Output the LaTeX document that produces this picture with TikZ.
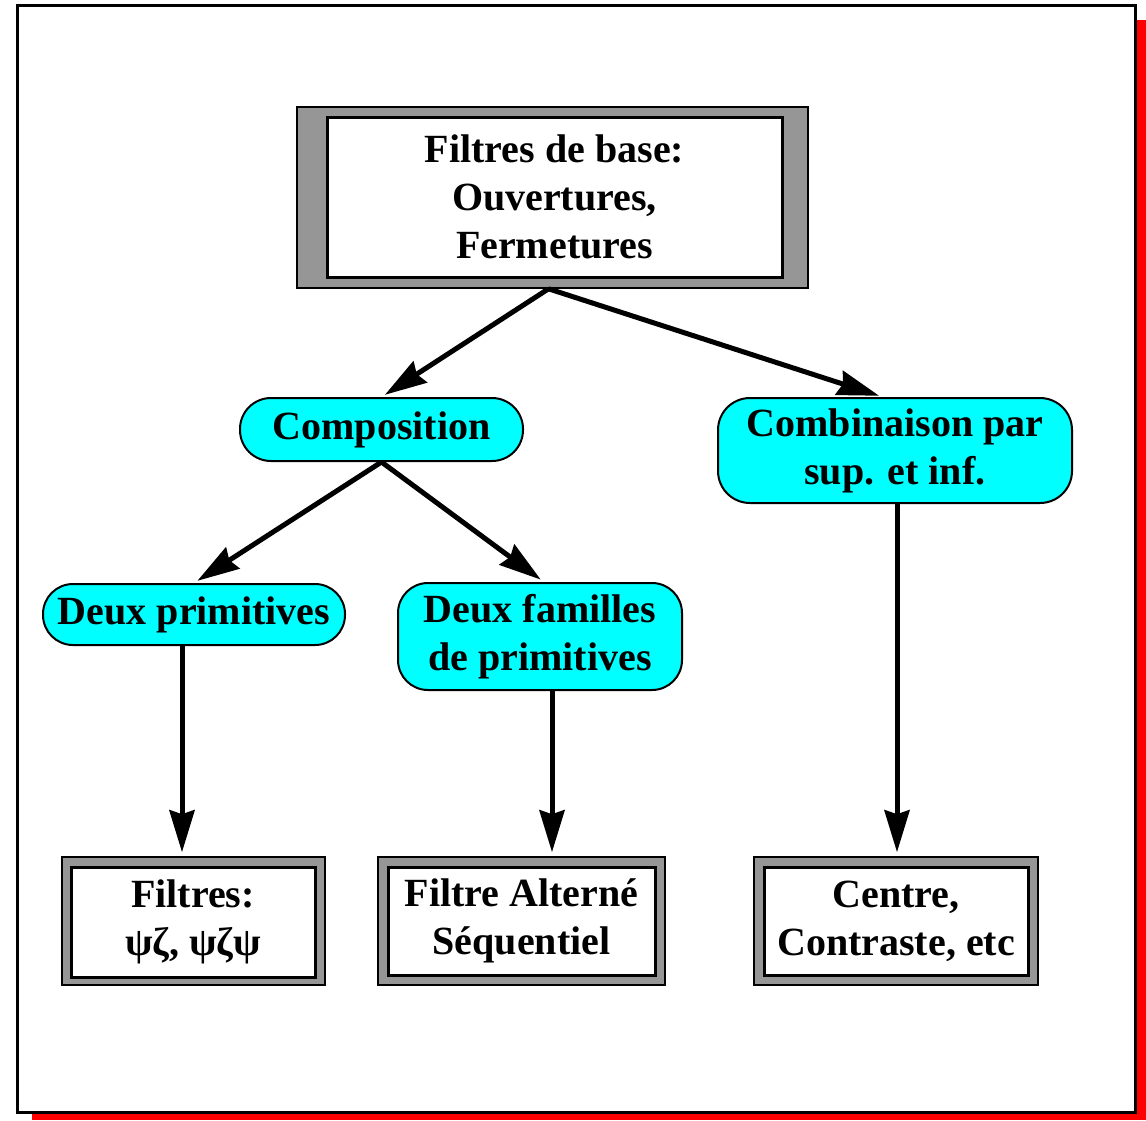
\documentclass[tikz,border=0pt]{standalone}
\usepackage{fontspec}
\setmainfont{Liberation Serif}
\usetikzlibrary{arrows.meta}
\definecolor{boxcyan}{RGB}{0,255,255}
\definecolor{shadegray}{RGB}{150,150,150}
\definecolor{shadowred}{RGB}{255,0,0}
\begin{document}
\begin{tikzpicture}[x=0.5pt,y=-0.5pt,
  lbl/.style={font=\bfseries\fontsize{20pt}{24pt}\selectfont, align=center, inner sep=0pt},
  pill/.style={lbl, draw, line width=1pt, fill=boxcyan, rounded corners=#1},
  outerbox/.style={draw, line width=0.8pt, fill=shadegray, inner sep=0pt},
  innerbox/.style={lbl, draw, line width=1.5pt, fill=white},
  arr/.style={line width=2.5pt, -{Stealth[length=21pt,width=12.5pt,inset=2pt]}, shorten >=2pt}]
\useasboundingbox (0,0) rectangle (1146,1120);
% frame with red shadow
\fill[shadowred] (32,20) rectangle (1146,1120);
\draw[line width=1.5pt, fill=white] (17,5) rectangle (1135,1112);

% top box
\node[outerbox, minimum width=255.5pt, minimum height=90.5pt] (topouter) at (552.5,197.5) {};
\node[innerbox, minimum width=227.5pt, minimum height=80pt] (top) at (554.5,197) {Filtres de base:\\Ouvertures,\\Fermetures};

% middle nodes
\node[pill=15.5pt, minimum width=141.5pt, minimum height=31.5pt] (comp) at (381.5,429.5) {Composition};
\node[pill=16pt, minimum width=177pt, minimum height=52.5pt] (comb) at (895,450.5) {Combinaison par\\sup. et inf.};
\node[pill=15pt, minimum width=151pt, minimum height=30.5pt] (dp) at (194,614.5) {Deux primitives};
\node[pill=15pt, minimum width=142pt, minimum height=53.5pt] (df) at (540,636.5) {Deux familles\\de primitives};

% bottom boxes
\node[outerbox, minimum width=131.5pt, minimum height=64pt] (f1out) at (193.5,921) {};
\node[innerbox, minimum width=122pt, minimum height=55pt] (f1) at (193,922) {Filtres:\\ψζ, ψζψ};
\node[outerbox, minimum width=143.5pt, minimum height=64pt] (f2out) at (521.5,921) {};
\node[innerbox, minimum width=133.5pt, minimum height=54pt] (f2) at (521.5,921) {Filtre Alterné\\Séquentiel};
\node[outerbox, minimum width=142pt, minimum height=64pt] (f3out) at (896,921) {};
\node[innerbox, minimum width=132pt, minimum height=54pt] (f3) at (896,921) {Centre,\\Contraste, etc};

% connectors
\draw[arr] ([xshift=-2pt]topouter.south) -- (comp.north);
\draw[arr] ([xshift=-2pt]topouter.south) -- ([xshift=-6pt]comb.north);
\draw[arr] (comp.south) -- (dp.north);
\draw[arr] (comp.south) -- ([xshift=2pt]df.north);
\draw[arr] ([xshift=-6pt]dp.south) -- ([xshift=-6pt]dp.south |- f1out.north);
\draw[arr] ([xshift=6pt]df.south) -- ([xshift=6pt]df.south |- f2out.north);
\draw[arr] ([xshift=1pt]comb.south) -- ([xshift=1pt]comb.south |- f3out.north);
\end{tikzpicture}
\end{document}
